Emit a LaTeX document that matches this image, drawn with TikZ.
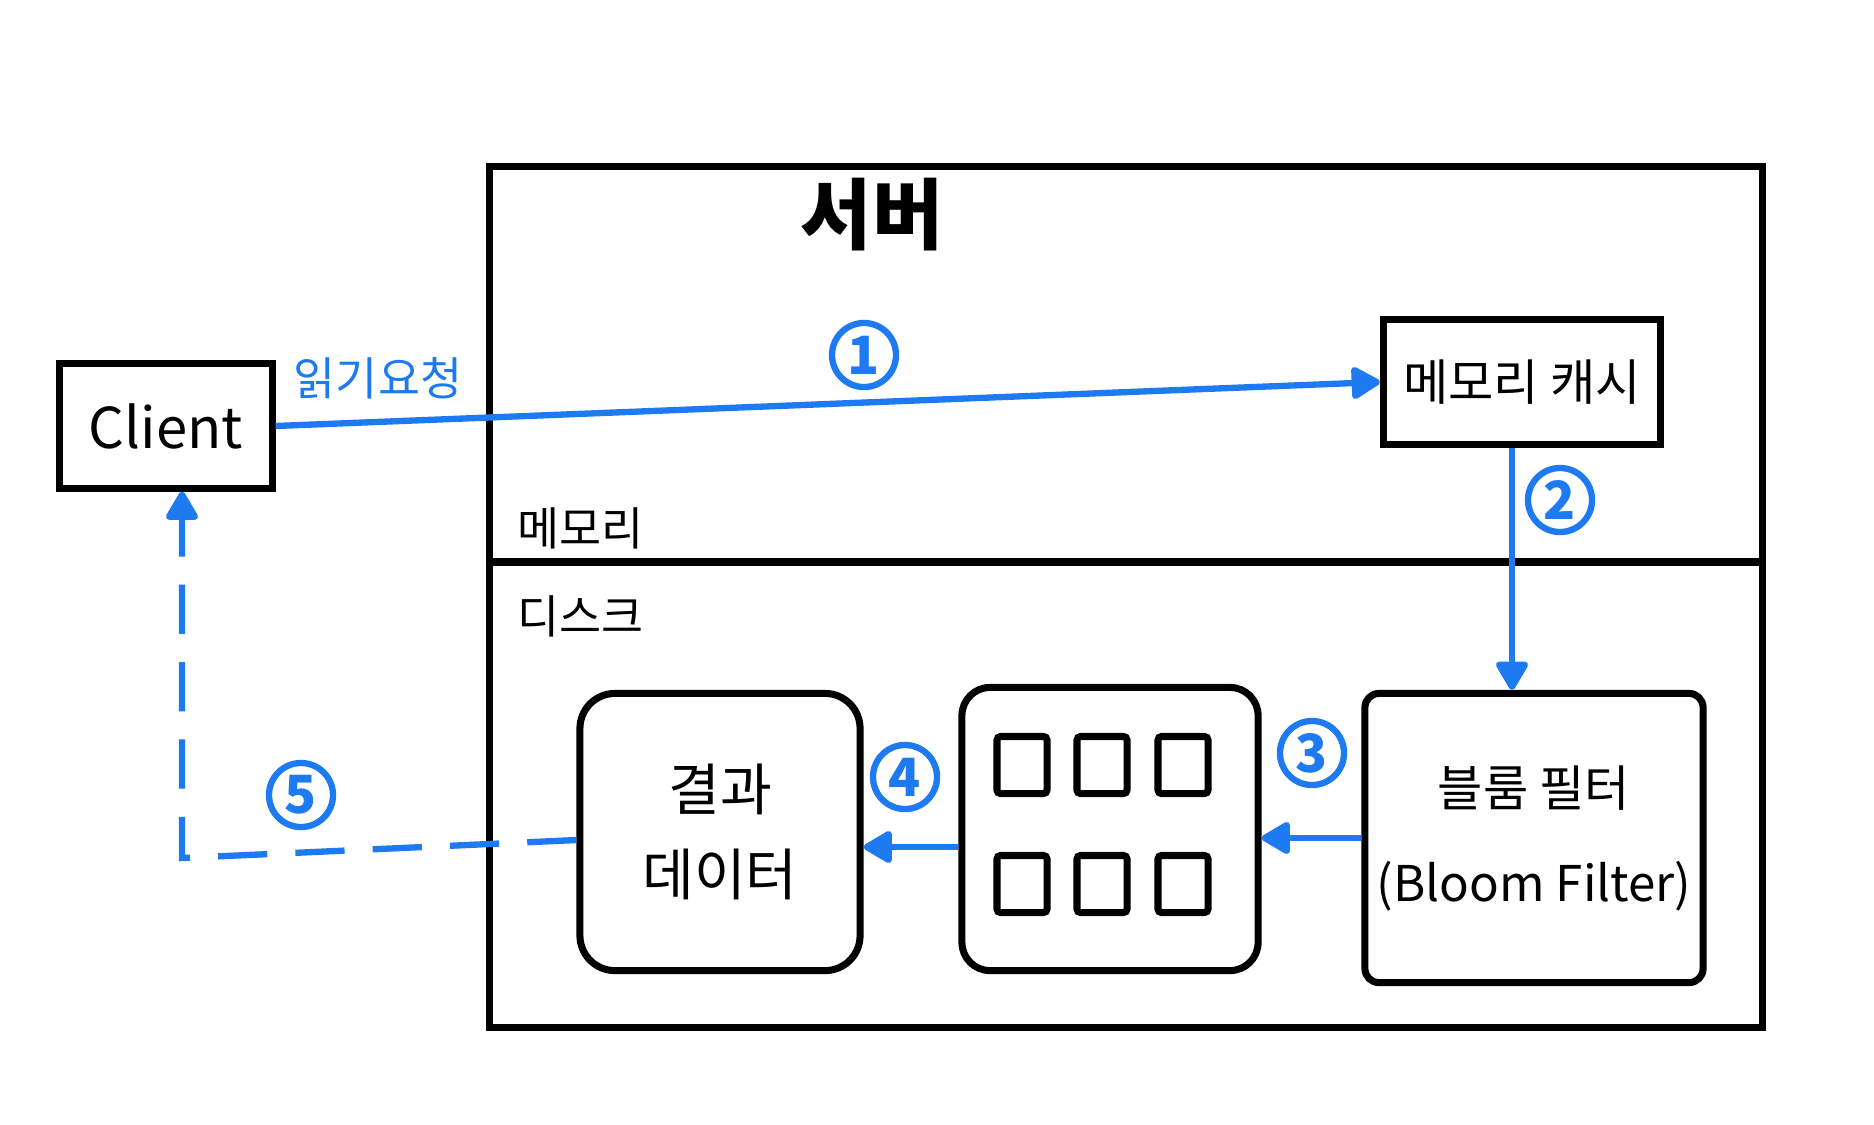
\documentclass[tikz,border=0pt]{standalone}
\usepackage{fontspec}
\setmainfont{Noto Sans CJK KR}
\usetikzlibrary{positioning,arrows.meta}
\definecolor{pen}{RGB}{30,122,240}

\begin{document}
\begin{tikzpicture}[x=0.01cm,y=-0.01cm,line width=2pt,
    box/.style={draw,rectangle,align=center},
    flow/.style={pen,line width=1.8pt,-{Triangle[round,length=9pt,width=10pt]}},
    num/.style={circle,draw=pen,text=pen,line width=1.8pt,minimum size=0.64cm,
                inner sep=0pt,font=\bfseries\fontsize{15}{15}\selectfont},
    cell/.style={draw,minimum width=0.5cm,minimum height=0.57cm,rounded corners=1pt}]
  \useasboundingbox (0,0) rectangle (1874,1124);
  % server frame with memory / disk split
  \node [draw,minimum width=12.73cm,minimum height=8.61cm] (server) at (1126,597) {};
  \draw (server.west |- 0,562) -- (server.east |- 0,562);
  \node [font=\fontsize{22}{26}\selectfont\bfseries] (title) at (872,215) {서버};
  \node [anchor=west,font=\fontsize{13}{16}\selectfont] (mem) at (502,528) {메모리};
  \node [anchor=west,font=\fontsize{13}{16}\selectfont] (disk) at (502,616) {디스크};

  \node [box,minimum width=2.12cm,minimum height=1.24cm,font=\fontsize{16}{20}\selectfont]
        (client) at (166,426) {Client};
  \node [box,minimum width=2.77cm,minimum height=1.25cm,font=\fontsize{14}{18}\selectfont]
        (cache) at (1522,382) {메모리 캐시};
  \node [box,minimum width=3.37cm,minimum height=2.89cm,rounded corners=4pt,
         font=\fontsize{14}{27}\selectfont] (bloom) at (1534,838) {블룸 필터\\(Bloom Filter)};
  \node [box,minimum width=2.96cm,minimum height=2.83cm,rounded corners=8pt] (sst) at (1110,829) {};
  \node [box,minimum width=2.80cm,minimum height=2.77cm,rounded corners=0.35cm,
         font=\fontsize{16}{24}\selectfont] (result) at (720,832) {결과\\데이터};
  \foreach \x in {1022,1102,1183}
    \foreach \y in {765,884}
      \node [cell] at (\x,\y) {};

  % read path
  \node [pen,font=\fontsize{13}{16}\selectfont] (req) at (378,378) {읽기요청};
  \draw [flow] (client.east) -- (cache.west);
  \node [num] (n1) at (864,355) {1};
  \draw [flow] ([xshift=-0.1cm]cache.south) -- ([xshift=-0.1cm]cache.south |- bloom.north);
  \node [num] (n2) at (1560,500) {2};
  \draw [flow] (bloom.west) -- (sst.east |- bloom.west);
  \node [num] (n3) at (1312,753) {3};
  \coordinate (s4) at ([yshift=-0.18cm]sst.west);
  \draw [flow] (s4) -- (result.east |- s4);
  \node [num] (n4) at (905,777) {4};
  \coordinate (turn) at (182,858);
  \draw [flow,dashed,dash pattern=on 14pt off 8pt] ([yshift=-0.08cm]result.west) -- (turn) -- (turn |- client.south);
  \node [num] (n5) at (301,795) {5};
\end{tikzpicture}
\end{document}
